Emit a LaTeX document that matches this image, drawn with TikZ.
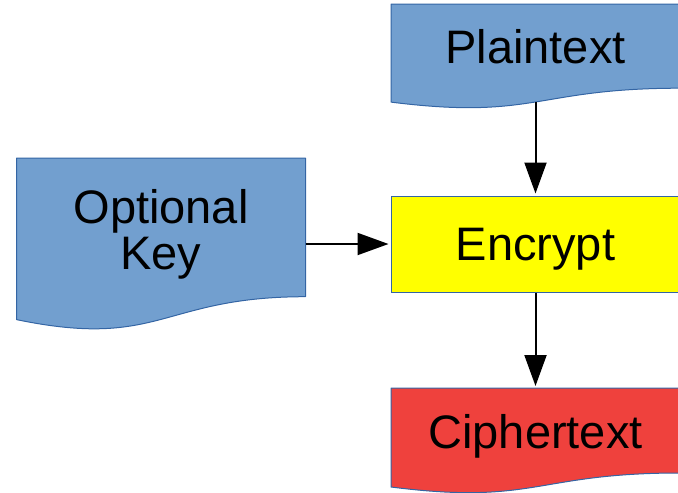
\documentclass[tikz,border=0pt]{standalone}
\usepackage{fontspec}
\setmainfont{Liberation Sans}
\usetikzlibrary{arrows.meta}
\definecolor{docblue}{HTML}{729FCF}
\definecolor{edgeblue}{HTML}{3465A4}
\definecolor{encyellow}{HTML}{FFFF00}
\definecolor{ciphred}{HTML}{EF413D}
\tikzset{
  docshape/.style={draw=edgeblue, line width=1pt, line join=round},
  label/.style={font=\fontsize{47}{46}\selectfont, text=black, inner sep=0pt},
  capbox/.style={text height=33.7pt, text depth=0pt},
  flow/.style={draw=black, line width=2pt, -{Triangle[length=31pt,width=22pt]}, shorten >=2pt},
}
\begin{document}
\begin{tikzpicture}[x=1pt,y=-1pt]
\useasboundingbox (0,0) rectangle (678,493);

% document shapes: flat top, wavy bottom
\path[docshape, fill=docblue] (391,4) -- (680,4) -- (680,88.2)
  .. controls (535.5,88.2) and (535.5,120.3) .. (391,102.1) -- cycle;
\path[docshape, fill=docblue] (16.5,158) -- (305.5,158) -- (305.5,296.7)
  .. controls (161,296.7) and (161,349.6) .. (16.5,319.6) -- cycle;
\path[docshape, fill=ciphred] (391,388) -- (680,388) -- (680,473)
  .. controls (535.5,473) and (535.5,505.4) .. (391,487) -- cycle;

% labels of the documents
\node[label, capbox] (plain) at (535.5,46.5) {Plaintext};
\node[label, align=center] (key) at (161,234.5) {Optional\\Key};
\node[label, capbox] (cipher) at (535.5,432) {Ciphertext};

% process box
\node[label, capbox, draw=edgeblue, line width=1pt, fill=encyellow,
      minimum width=289pt, minimum height=96pt] (enc) at (535.5,244) {Encrypt};

% connector ends on the document outlines
\coordinate (plainBottom) at (535.5,102);
\coordinate (keyRight) at (305.5,244);
\coordinate (cipherTop) at (535.5,388);

\draw[flow] (plainBottom) -- (enc.north);
\draw[flow] (keyRight) -- (enc.west);
\draw[flow] (enc.south) -- (cipherTop);
\end{tikzpicture}
\end{document}
